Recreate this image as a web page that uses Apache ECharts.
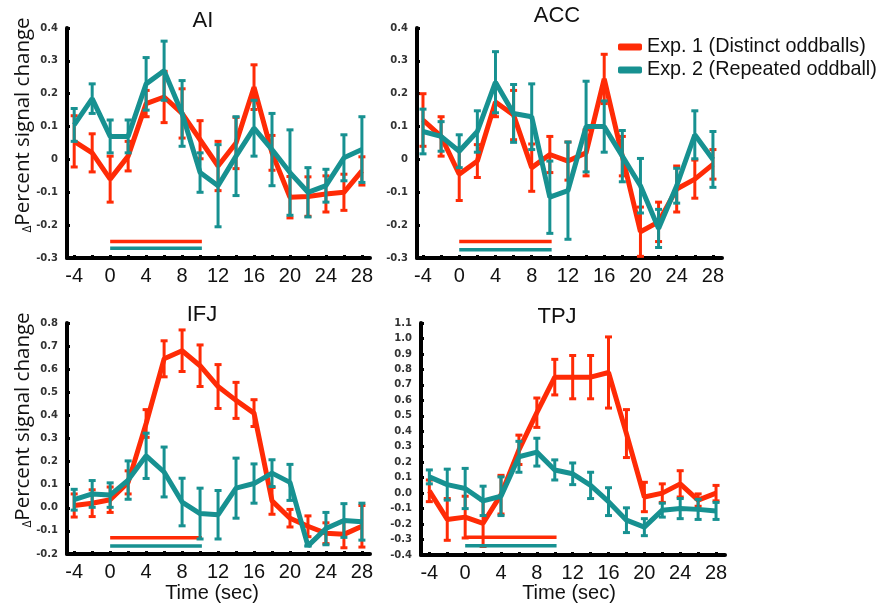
<!DOCTYPE html>
<html>
<head>
<meta charset="utf-8">
<script src="https://cdn.jsdelivr.net/npm/echarts@6/dist/echarts.min.js"></script>
<style>
  html, body { margin: 0; padding: 0; background: #fff; }
  #chart { width: 882px; height: 611px; }
</style>
</head>
<body>
<div id="chart"></div>
<script>
// time points (sec) and axis labels
var times = [-4, -2, 0, 2, 4, 6, 8, 10, 12, 14, 16, 18, 20, 22, 24, 26, 28];
var xLabelVals = [-4, 0, 4, 8, 12, 16, 20, 24, 28];
var xTickVals = [-4, -2, 0, 2, 4, 6, 8, 10, 12, 14, 16, 18, 20, 22, 24, 26, 28];

// AI
var aiRed = [0.055, 0.02, -0.06, 0.01, 0.17, 0.19, 0.14, 0.06, -0.02, 0.05, 0.22, 0.02, -0.115, -0.113, -0.105, -0.10, -0.035];
var aiRedErr = [0.078, 0.058, 0.07, 0.045, 0.04, 0.078, 0.075, 0.058, 0.075, 0.078, 0.068, 0.053, 0.063, 0.06, 0.055, 0.055, 0.043];
var aiTeal = [0.105, 0.185, 0.07, 0.07, 0.23, 0.27, 0.14, -0.04, -0.08, 0.01, 0.095, 0.03, -0.04, -0.10, -0.08, 0.005, 0.03];
var aiTealErr = [0.05, 0.045, 0.05, 0.05, 0.08, 0.09, 0.10, 0.06, 0.125, 0.12, 0.085, 0.11, 0.13, 0.075, 0.05, 0.07, 0.10];

// ACC
var accRed = [0.12, 0.07, -0.045, -0.005, 0.175, 0.135, -0.025, 0.015, -0.005, 0.02, 0.245, 0.01, -0.22, -0.19, -0.09, -0.06, -0.015];
var accRedErr = [0.08, 0.06, 0.08, 0.05, 0.045, 0.075, 0.072, 0.055, 0.058, 0.07, 0.075, 0.06, 0.075, 0.06, 0.07, 0.058, 0.045];
var accTeal = [0.085, 0.07, 0.025, 0.085, 0.235, 0.14, 0.13, -0.115, -0.095, 0.10, 0.10, 0.01, -0.08, -0.21, -0.08, 0.075, 0.0];
var accTealErr = [0.068, 0.045, 0.05, 0.063, 0.093, 0.088, 0.10, 0.11, 0.148, 0.138, 0.078, 0.078, 0.083, 0.058, 0.053, 0.073, 0.085];

// IFJ
var ifjRed = [0.01, 0.02, 0.035, 0.11, 0.365, 0.645, 0.68, 0.615, 0.525, 0.465, 0.41, 0.03, -0.045, -0.08, -0.11, -0.115, -0.08];
var ifjRedErr = [0.05, 0.058, 0.055, 0.05, 0.06, 0.078, 0.09, 0.09, 0.095, 0.078, 0.058, 0.058, 0.038, 0.045, 0.045, 0.058, 0.09];
var ifjTeal = [0.035, 0.06, 0.055, 0.12, 0.225, 0.155, 0.025, -0.025, -0.03, 0.085, 0.105, 0.15, 0.11, -0.165, -0.09, -0.055, -0.06];
var ifjTealErr = [0.045, 0.058, 0.053, 0.083, 0.098, 0.108, 0.103, 0.11, 0.105, 0.13, 0.085, 0.058, 0.078, 0.0, 0.07, 0.073, 0.08];

// TPJ
var tpjRed = [0.015, -0.17, -0.155, -0.195, -0.01, 0.28, 0.52, 0.75, 0.75, 0.75, 0.78, 0.385, -0.025, 0.0, 0.06, -0.045, 0.0];
var tpjRedErr = [0.07, 0.135, 0.135, 0.15, 0.125, 0.095, 0.095, 0.115, 0.14, 0.14, 0.23, 0.155, 0.095, 0.06, 0.085, 0.04, 0.05];
var tpjTeal = [0.105, 0.055, 0.03, -0.05, -0.02, 0.235, 0.265, 0.15, 0.125, 0.05, -0.055, -0.175, -0.22, -0.11, -0.10, -0.105, -0.115];
var tpjTealErr = [0.045, 0.10, 0.13, 0.095, 0.125, 0.10, 0.09, 0.065, 0.07, 0.085, 0.09, 0.08, 0.055, 0.045, 0.065, 0.065, 0.055];

// stimulus period bars: [start, end], y level per panel [red, teal]
var stimSpan = [0, 10.2];
var stimY = [[-0.25, -0.27], [-0.25, -0.275], [-0.13, -0.165], [-0.285, -0.34]];

var RED = '#ff2b06';
var TEAL = '#179191';
var NAME1 = 'Exp. 1 (Distinct oddballs)';
var NAME2 = 'Exp. 2 (Repeated oddball)';

var myChart = echarts.init(document.getElementById('chart'));

function pairs(vals) {
    return times.map(function (t, i) { return [t, vals[i]]; });
}
function errData(vals, errs) {
    return times.map(function (t, i) { return [t, vals[i] - errs[i], vals[i] + errs[i]]; });
}

function renderErr(color) {
    return function (params, api) {
        var x = api.value(0);
        var lo = api.coord([x, api.value(1)]);
        var hi = api.coord([x, api.value(2)]);
        var style = { stroke: color, lineWidth: 3 };
        var cw = 3.5;
        return {
            type: 'group',
            children: [
                { type: 'line', shape: { x1: lo[0], y1: lo[1], x2: hi[0], y2: hi[1] }, style: style },
                { type: 'line', shape: { x1: lo[0] - cw, y1: lo[1], x2: lo[0] + cw, y2: lo[1] }, style: style },
                { type: 'line', shape: { x1: hi[0] - cw, y1: hi[1], x2: hi[0] + cw, y2: hi[1] }, style: style }
            ]
        };
    };
}

var panels = [
    { red: aiRed, redErr: aiRedErr, teal: aiTeal, tealErr: aiTealErr },
    { red: accRed, redErr: accRedErr, teal: accTeal, tealErr: accTealErr },
    { red: ifjRed, redErr: ifjRedErr, teal: ifjTeal, tealErr: ifjTealErr },
    { red: tpjRed, redErr: tpjRedErr, teal: tpjTeal, tealErr: tpjTealErr }
];

var grids = [
    { left: 67, top: 28, width: 303, height: 230 },
    { left: 417, top: 28, width: 305, height: 230 },
    { left: 67, top: 323, width: 303, height: 231 },
    { left: 421, top: 323, width: 304, height: 232 }
];
var xRange = [[-4.8, 28.9], [-4.66, 29], [-4.8, 28.9], [-4.93, 29]];
var yRange = [[-0.3, 0.4], [-0.3, 0.4], [-0.2, 0.8], [-0.4, 1.1]];

var xAxes = [], yAxes = [], series = [];

panels.forEach(function (p, i) {
    xAxes.push({
        type: 'value', gridIndex: i, min: xRange[i][0], max: xRange[i][1],
        axisLine: { onZero: false, lineStyle: { color: '#000', width: 4 } },
        axisTick: { inside: true, length: 3, lineStyle: { color: '#000', width: 3 }, customValues: xTickVals },
        axisLabel: { customValues: xLabelVals, fontSize: 20, color: '#111', fontFamily: 'Liberation Sans', margin: 8 },
        splitLine: { show: false }
    });
    yAxes.push({
        type: 'value', gridIndex: i, min: yRange[i][0], max: yRange[i][1], interval: 0.1,
        axisLine: { show: true, onZero: false, lineStyle: { color: '#000', width: 4 } },
        axisTick: { show: true, inside: true, length: 3, lineStyle: { color: '#000', width: 3 } },
        axisLabel: {
            fontSize: 10, fontWeight: 'bold', color: '#333', fontFamily: 'DejaVu Sans', margin: 9,
            formatter: i < 2
                ? function (v) { return String(+v.toFixed(1)); }
                : function (v) { return Math.abs(v) < 1e-9 ? '0.0' : v.toFixed(1); }
        },
        splitLine: { show: false }
    });

    series.push({
        name: 'err1', type: 'custom', xAxisIndex: i, yAxisIndex: i,
        renderItem: renderErr(RED), data: errData(p.red, p.redErr),
        encode: { x: 0, y: [1, 2] }, z: 2
    });
    series.push({
        name: NAME1, type: 'line', xAxisIndex: i, yAxisIndex: i, color: RED,
        data: pairs(p.red), symbol: 'none', lineStyle: { width: 5, color: RED }, z: 3
    });
    series.push({
        name: 'err2', type: 'custom', xAxisIndex: i, yAxisIndex: i,
        renderItem: renderErr(TEAL), data: errData(p.teal, p.tealErr),
        encode: { x: 0, y: [1, 2] }, z: 4
    });
    series.push({
        name: NAME2, type: 'line', xAxisIndex: i, yAxisIndex: i, color: TEAL,
        data: pairs(p.teal), symbol: 'none', lineStyle: { width: 5, color: TEAL }, z: 5
    });
    // stimulus bars
    series.push({
        name: 'stim1', type: 'line', xAxisIndex: i, yAxisIndex: i, symbol: 'none', silent: true,
        data: [[stimSpan[0], stimY[i][0]], [stimSpan[1], stimY[i][0]]],
        lineStyle: { width: 3.5, color: RED, cap: 'butt' }, z: 3
    });
    series.push({
        name: 'stim2', type: 'line', xAxisIndex: i, yAxisIndex: i, symbol: 'none', silent: true,
        data: [[stimSpan[0], stimY[i][1]], [stimSpan[1], stimY[i][1]]],
        lineStyle: { width: 3.5, color: TEAL, cap: 'butt' }, z: 3
    });
});

function label(text, x, y, size, rot) {
    return {
        type: 'text', x: x, y: y, rotation: rot || 0,
        style: {
            text: text, fill: '#111',
            font: size + 'px "Liberation Sans", Arial, sans-serif',
            align: 'center', verticalAlign: 'middle',
            textAlign: 'center', textVerticalAlign: 'middle'
        }
    };
}
function yName(x, y) {
    return {
        type: 'text', x: x, y: y, rotation: Math.PI / 2,
        style: {
            text: '{d|Δ}{p|Percent signal change}',
            align: 'center', verticalAlign: 'middle',
            textAlign: 'center', textVerticalAlign: 'middle',
            rich: {
                d: { fontSize: 12, fontFamily: 'Open Sans', fill: '#111', verticalAlign: 'bottom' },
                p: { fontSize: 20.5, fontFamily: 'Open Sans', fill: '#111' }
            }
        }
    };
}

var option = {
    animation: false,
    backgroundColor: '#fff',
    grid: grids,
    xAxis: xAxes,
    yAxis: yAxes,
    legend: {
        orient: 'vertical', left: 618, top: 37, padding: 0,
        itemWidth: 24, itemHeight: 7, itemGap: 3, icon: 'roundRect',
        textStyle: { fontSize: 19.8, fontFamily: 'Liberation Sans', color: '#111', lineHeight: 20 },
        data: [
            { name: NAME1, itemStyle: { color: RED } },
            { name: NAME2, itemStyle: { color: TEAL } }
        ]
    },
    graphic: [
        label('AI', 203, 21, 22),
        label('ACC', 557, 16, 22),
        label('IFJ', 202, 315, 22),
        label('TPJ', 557, 317, 22),
        label('Time (sec)', 212, 593, 20),
        label('Time (sec)', 569, 593, 20),
        yName(23, 125),
        yName(23, 420)
    ],
    series: series
};

myChart.setOption(option);
</script>
</body>
</html>
